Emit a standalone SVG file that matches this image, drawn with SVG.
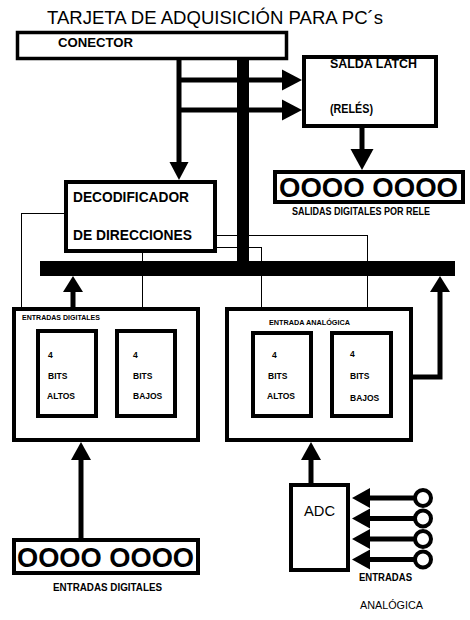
<svg xmlns="http://www.w3.org/2000/svg" width="470" height="620" viewBox="0 0 470 620">
<style>
text{font-family:"Liberation Sans",Arial,sans-serif;fill:#000}
.b{font-weight:bold}
.box{fill:#fff;stroke:#000;stroke-width:4}
.thk{fill:none;stroke:#000;stroke-width:5}
.thn{fill:none;stroke:#000;stroke-width:1;shape-rendering:crispEdges}
.head{fill:#000;stroke:none}
.sm{font-size:8.5px;font-weight:bold}
.ring{fill:none;stroke:#000;stroke-width:4}
</style>
<rect width="470" height="620" fill="#fff"/>
<text x="47" y="24" font-size="18" textLength="336" lengthAdjust="spacingAndGlyphs">TARJETA DE ADQUISICIÓN PARA PC´s</text>

<g id="connectors">
  <!-- thick bus bars -->
  <rect x="237" y="58" width="12" height="205" fill="#000"/>
  <rect x="40" y="261" width="415" height="15" fill="#000"/>
  <!-- thick arrows -->
  <path class="thk" d="M179,59 V163"/>
  <polygon class="head" points="169.5,162 188.5,162 179,180"/>
  <path class="thk" d="M179,80 H283"/>
  <polygon class="head" points="282,69.5 302,80 282,90.5"/>
  <path class="thk" d="M179,110 H283"/>
  <polygon class="head" points="282,99.5 302,110 282,120.5"/>
  <path class="thk" d="M362,127 V150"/>
  <polygon class="head" points="350.5,149 373.5,149 362,170"/>
  <path class="thk" d="M73,307 V290"/>
  <polygon class="head" points="63,292 83,292 73,276"/>
  <path class="thk" d="M413,377 H440 V290"/>
  <polygon class="head" points="430,292 450,292 440,276"/>
  <path class="thk" d="M81,538 V458"/>
  <polygon class="head" points="71,460 91,460 81,442"/>
  <path class="thk" d="M311,483 V458"/>
  <polygon class="head" points="301,460 321,460 311,442"/>
  <path class="thk" d="M415,498 H369"/>
  <polygon class="head" points="370,488 370,508 352,498"/>
  <path class="thk" d="M415,518.5 H369"/>
  <polygon class="head" points="370,508.5 370,528.5 352,518.5"/>
  <path class="thk" d="M415,539 H369"/>
  <polygon class="head" points="370,529 370,549 352,539"/>
  <path class="thk" d="M415,559.5 H369"/>
  <polygon class="head" points="370,549.5 370,569.5 352,559.5"/>
  <!-- thin decoder lines -->
  <path class="thn" d="M64,213.5 H21.5 V371.5 H28"/>
  <polygon class="head" points="27,367 36,371.5 27,376"/>
  <path class="thn" d="M142.5,252 V320"/>
  <polygon class="head" points="138,319 147,319 142.5,328"/>
  <path class="thn" d="M217,235.5 H367.5 V322"/>
  <polygon class="head" points="363,320 372,320 367.5,329"/>
  <path class="thn" d="M217,247.5 H261.5 V322"/>
  <polygon class="head" points="257,320 266,320 261.5,329"/>
</g>

<g id="conector">
  <rect x="17.5" y="32.5" width="269" height="26" fill="#fff" stroke="#000" stroke-width="3.5"/>
  <text x="58" y="47" font-size="13" class="b" textLength="75" lengthAdjust="spacingAndGlyphs">CONECTOR</text>
</g>

<g id="latch">
  <rect x="304" y="57" width="132" height="69" class="box"/>
  <text x="330" y="68" font-size="12" class="b" textLength="87" lengthAdjust="spacingAndGlyphs">SALDA LATCH</text>
  <text x="330" y="113" font-size="12" class="b" textLength="43" lengthAdjust="spacingAndGlyphs">(RELÉS)</text>
</g>

<g id="salidas">
  <rect x="275" y="172" width="188" height="30" class="box"/>
  <text x="279" y="197" font-size="27" class="b" textLength="179" lengthAdjust="spacingAndGlyphs">OOOO OOOO</text>
  <text x="292" y="215" font-size="10" class="b" textLength="138" lengthAdjust="spacingAndGlyphs">SALIDAS  DIGITALES POR RELE</text>
</g>

<g id="decodificador">
  <rect x="66" y="182" width="149" height="69" class="box"/>
  <text x="73" y="202" font-size="14" class="b" textLength="116" lengthAdjust="spacingAndGlyphs">DECODIFICADOR</text>
  <text x="73" y="240" font-size="14" class="b" textLength="119" lengthAdjust="spacingAndGlyphs">DE  DIRECCIONES</text>
</g>

<g id="entradas-digitales-card">
  <rect x="14" y="309" width="184" height="131" class="box"/>
  <text x="22" y="320" font-size="7.5" class="b" textLength="78" lengthAdjust="spacingAndGlyphs">ENTRADAS  DIGITALES</text>
  <rect x="38" y="331" width="58" height="85" class="box"/>
  <text x="48" y="358" class="sm">4</text>
  <text x="48" y="379" class="sm">BITS</text>
  <text x="47" y="399" class="sm">ALTOS</text>
  <rect x="117" y="331" width="58" height="85" class="box"/>
  <text x="133" y="358" class="sm">4</text>
  <text x="133" y="379" class="sm">BITS</text>
  <text x="133" y="399" class="sm">BAJOS</text>
</g>

<g id="entrada-analogica-card">
  <rect x="227" y="309" width="184" height="131" class="box"/>
  <text x="269" y="325" font-size="7.5" class="b" textLength="81" lengthAdjust="spacingAndGlyphs">ENTRADA  ANALÓGICA</text>
  <rect x="253" y="333" width="58" height="83" class="box"/>
  <text x="272" y="358" class="sm">4</text>
  <text x="268" y="379" class="sm">BITS</text>
  <text x="267" y="399" class="sm">ALTOS</text>
  <rect x="332" y="333" width="59" height="83" class="box"/>
  <text x="350" y="357" class="sm">4</text>
  <text x="350" y="379" class="sm">BITS</text>
  <text x="350" y="401" class="sm">BAJOS</text>
</g>

<g id="entradas-digitales">
  <rect x="14" y="540" width="184" height="33" class="box"/>
  <text x="17" y="567" font-size="27" class="b" textLength="177" lengthAdjust="spacingAndGlyphs">OOOO OOOO</text>
  <text x="53" y="591" font-size="10" class="b" textLength="109" lengthAdjust="spacingAndGlyphs">ENTRADAS  DIGITALES</text>
</g>

<g id="adc">
  <rect x="291" y="485" width="57" height="85" class="box"/>
  <text x="304" y="516" font-size="14" textLength="31" lengthAdjust="spacingAndGlyphs">ADC</text>
</g>

<g id="entradas-analogicas">
  <circle cx="423" cy="498" r="8" class="ring"/>
  <circle cx="423" cy="518.5" r="8" class="ring"/>
  <circle cx="423" cy="539" r="8" class="ring"/>
  <circle cx="423" cy="559.5" r="8" class="ring"/>
  <text x="359" y="581" font-size="10" class="b" textLength="53" lengthAdjust="spacingAndGlyphs">ENTRADAS</text>
  <text x="360" y="609" font-size="10" textLength="63" lengthAdjust="spacingAndGlyphs">ANALÓGICA</text>
</g>
</svg>
